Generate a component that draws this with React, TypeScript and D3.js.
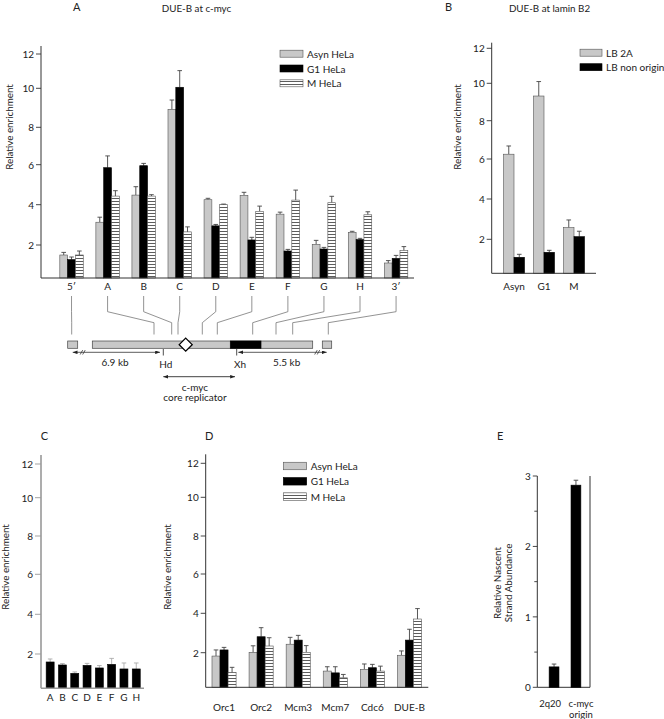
import React from "react";
import * as d3 from "d3";

// ---------- Panel A: DUE-B at c-myc ----------
const aCategories = ["5\u2032", "A", "B", "C", "D", "E", "F", "G", "H", "3\u2032"];
const cellSeries = ["Asyn HeLa", "G1 HeLa", "M HeLa"];
const aAsyn = [1.5, 3.13, 4.48, 8.92, 4.25, 4.47, 3.53, 2.03, 2.63, 1.1];
const aAsynErr = [0.13, 0.25, 0.42, 0.48, 0.07, 0.15, 0.1, 0.2, 0.05, 0.12];
const aG1 = [1.27, 5.85, 5.95, 10.06, 2.95, 2.25, 1.7, 1.8, 2.27, 1.33];
const aG1Err = [0.13, 0.62, 0.12, 0.97, 0.07, 0.13, 0.08, 0.08, 0.06, 0.15];
const aM = [1.5, 4.43, 4.43, 2.65, 4.0, 3.67, 4.23, 4.1, 3.5, 1.72];
const aMErr = [0.2, 0.27, 0.07, 0.25, 0.03, 0.26, 0.5, 0.32, 0.15, 0.2];
const enrichTicks = [2, 4, 6, 8, 10, 12];

// map probe positions (map units from left end of the schematic)
const mapProbes = [4, 86.3, 104, 110.3, 134.6, 149.6, 185, 208.3, 225, 260.6];

// ---------- Panel B: DUE-B at lamin B2 ----------
const bCategories = ["Asyn", "G1", "M"];
const bSeries = ["LB 2A", "LB non origin"];
const bLB2A = [6.25, 9.32, 2.58];
const bLB2AErr = [0.43, 0.78, 0.38];
const bNonOrigin = [1.1, 1.35, 2.13];
const bNonOriginErr = [0.15, 0.1, 0.27];

// ---------- Panel C ----------
const cCategories = ["A", "B", "C", "D", "E", "F", "G", "H"];
const cValues = [1.6, 1.45, 1.03, 1.43, 1.3, 1.48, 1.25, 1.25];
const cErr = [0.15, 0.07, 0.07, 0.1, 0.12, 0.3, 0.3, 0.3];

// ---------- Panel D ----------
const dCategories = ["Orc1", "Orc2", "Mcm3", "Mcm7", "Cdc6", "DUE-B"];
const dAsyn = [1.83, 2.02, 2.43, 1.07, 1.16, 1.87];
const dAsynErr = [0.31, 0.33, 0.35, 0.22, 0.27, 0.22];
const dG1 = [2.14, 2.81, 2.64, 0.98, 1.24, 2.64];
const dG1Err = [0.13, 0.46, 0.24, 0.31, 0.17, 0.55];
const dM = [1.0, 2.34, 2.02, 0.73, 1.07, 3.71];
const dMErr = [0.26, 0.42, 0.34, 0.17, 0.25, 0.53];

// ---------- Panel E ----------
const eKeys = ["2q20", "c-myc origin"];
const eLabels = [["2q20"], ["c-myc", "origin"]];
const eValues = [0.29, 2.87];
const eErr = [0.04, 0.07];
const eTicks = [0, 1, 2, 3];
const eMinorTicks = [0.5, 1.5, 2.5];

const FONT = "Lato, 'Open Sans', sans-serif";
const GRAY = "#c8c8c8";
const fills = [GRAY, "#000", "url(#hstripe)"];

type BarProps = {
  cats: string[];
  series: number[][];
  errs: number[][];
  x: d3.ScaleBand<string>;
  y: d3.ScaleLinear<number, number>;
  y0: number;
  fillList: string[];
  errColor?: string;
};

function GroupedBars({ cats, series, errs, x, y, y0, fillList, errColor = "#444" }: BarProps) {
  const sub = d3.scaleBand<number>().domain(d3.range(series.length)).range([0, x.bandwidth()]);
  return (
    <g>
      {cats.map((c, ci) =>
        series.map((vals, si) => {
          const v = vals[ci];
          const e = errs[si][ci];
          const bx = (x(c) as number) + (sub(si) as number);
          const w = sub.bandwidth();
          const cx = bx + w / 2;
          return (
            <g key={c + si}>
              <line x1={cx} x2={cx} y1={y(v)} y2={y(v + e)} stroke={errColor} strokeWidth={0.9} />
              <line x1={cx - 2.3} x2={cx + 2.3} y1={y(v + e)} y2={y(v + e)} stroke={errColor} strokeWidth={0.9} />
              <rect x={bx} y={y(v)} width={w} height={y0 - y(v)} fill={fillList[si]}
                stroke={fillList[si] === "#000" ? "#000" : "#555"} strokeWidth={0.6} />
            </g>
          );
        })
      )}
    </g>
  );
}

function YAxis({ y, x0, ticks, color = "#333", width = 1, top, bottom, tickLen = 5, fmt = (t: number) => String(t) }: any) {
  return (
    <g fontFamily={FONT} fontSize={10} fill="#222">
      <line x1={x0} x2={x0} y1={top} y2={bottom} stroke={color} strokeWidth={width} />
      {ticks.map((t: number) => (
        <g key={t}>
          <line x1={x0 - tickLen} x2={x0} y1={y(t)} y2={y(t)} stroke={color} strokeWidth={0.9} />
          <text x={x0 - tickLen - 2} y={y(t)} textAnchor="end" dominantBaseline="central">{fmt(t)}</text>
        </g>
      ))}
    </g>
  );
}

function Legend({ items, x, y, step, w, h, fillList }: any) {
  return (
    <g fontFamily={FONT} fontSize={10} fill="#222">
      {items.map((s: string, i: number) => (
        <g key={s}>
          <rect x={x} y={y + i * step - h / 2} width={w} height={h} fill={fillList[i]}
            stroke={fillList[i] === "#000" ? "#000" : "#555"} strokeWidth={0.6} />
          <text x={x + w + 4} y={y + i * step} dominantBaseline="central">{s}</text>
        </g>
      ))}
    </g>
  );
}

function YLabel({ x, y, lines }: { x: number; y: number; lines: string[] }) {
  return (
    <text transform={`translate(${x},${y}) rotate(-90)`} textAnchor="middle" fontFamily={FONT} fontSize={9.8} fill="#222">
      {lines.map((l, i) => (
        <tspan key={l} x={0} dy={i === 0 ? 0 : 10.5}>{l}</tspan>
      ))}
    </text>
  );
}

export default function App() {
  // Panel A scales
  const xA = d3.scaleBand<string>().domain(aCategories).range([53.5, 414.1]).paddingInner(0.35).paddingOuter(0.175);
  const yA = d3.scaleLinear().domain([0.35, 2, 4, 6, 8, 10, 12]).range([278, 245, 204.7, 164.7, 127.3, 88.3, 54]);
  const aBase = 278;

  // Panel B
  const xB = d3.scaleBand<string>().domain(bCategories).range([499, 589]).paddingInner(0.3).paddingOuter(0.15);
  const yB = d3.scaleLinear().domain([0.3, 2, 4, 6, 8, 10, 12]).range([273.3, 239.3, 199, 159, 120.7, 83.3, 48.3]);
  const bBase = 273.3;

  // Panel C
  const xC = d3.scaleBand<string>().domain(cCategories).range([44, 142.4]).paddingInner(0.35).paddingOuter(0.175);
  const yC = d3.scaleLinear().domain([0.28, 2, 4, 6, 8, 10, 12]).range([688.3, 654, 614.3, 574.3, 536, 497.7, 464]);
  const cBase = 688.3;

  // Panel D
  const xD = d3.scaleBand<string>().domain(dCategories).range([205.5, 428]).paddingInner(0.35).paddingOuter(0.175);
  const yD = d3.scaleLinear().domain([0.25, 2, 4, 6, 8, 10, 12]).range([687.3, 652.7, 613.3, 574, 536, 497.3, 463.3]);
  const dBase = 687.3;

  // Panel E
  const xE = d3.scaleBand<string>().domain(eKeys).range([543, 587]).paddingInner(0.55).paddingOuter(0.28);
  const yE = d3.scaleLinear().domain([0, 3]).range([687.3, 476]);
  const eLabelShift = [-4, 5];

  // Map schematic
  const xMap = d3.scaleLinear().domain([0, 264]).range([67.7, 331.7]);
  const mapTop = 341, mapH = 7.3;

  return (
    <svg width={664} height={719} style={{ position: "absolute", left: 0, top: 0, background: "#fff" }}>
      <defs>
        <pattern id="hstripe" patternUnits="userSpaceOnUse" width={8} height={3}>
          <rect width={8} height={3} fill="#fff" />
          <line x1={0} x2={8} y1={0.5} y2={0.5} stroke="#333" strokeWidth={0.8} />
        </pattern>
        <marker id="arr" viewBox="0 0 8 6" refX={8} refY={3} markerWidth={6} markerHeight={4.5} orient="auto-start-reverse">
          <path d="M0,0 L8,3 L0,6 z" fill="#222" />
        </marker>
      </defs>
      <rect width={664} height={719} fill="#fff" />

      {/* ============ Panel A ============ */}
      <text x={73} y={11} fontFamily={FONT} fontSize={11} fill="#222">A</text>
      <text x={196.5} y={12} textAnchor="middle" fontFamily={FONT} fontSize={9.8} fill="#222">DUE-B at c-myc</text>
      <YLabel x={13} y={127} lines={["Relative enrichment"]} />
      <YAxis y={yA} x0={41} ticks={enrichTicks} top={46} bottom={aBase} />
      <GroupedBars cats={aCategories} series={[aAsyn, aG1, aM]} errs={[aAsynErr, aG1Err, aMErr]}
        x={xA} y={yA} y0={aBase} fillList={fills} />
      <line x1={41} x2={414} y1={aBase} y2={aBase} stroke="#333" strokeWidth={1} />
      <g fontFamily={FONT} fontSize={10} fill="#222" textAnchor="middle">
        {aCategories.map((c) => (
          <text key={c} x={(xA(c) as number) + xA.bandwidth() / 2} y={290}>{c}</text>
        ))}
      </g>
      <Legend items={cellSeries} x={280} y={53.7} step={14.8} w={23} h={7} fillList={fills} />

      {/* connectors from probes to map */}
      <g fill="none" stroke="#777" strokeWidth={0.8}>
        {aCategories.map((c, i) => {
          const lx = (xA(c) as number) + xA.bandwidth() / 2;
          const px = xMap(mapProbes[i]);
          return <path key={c} d={`M${lx},296 V311.7 L${px},322.7 V334.5`} />;
        })}
      </g>
      {/* map schematic */}
      <g stroke="#444" strokeWidth={0.7}>
        <rect x={xMap(0)} y={mapTop} width={xMap(10) - xMap(0)} height={mapH} fill={GRAY} />
        <rect x={xMap(24.6)} y={mapTop} width={xMap(245) - xMap(24.6)} height={mapH} fill={GRAY} />
        <rect x={xMap(162.6)} y={mapTop} width={xMap(193.3) - xMap(162.6)} height={mapH} fill="#000" stroke="#000" />
        <rect x={xMap(254.6)} y={mapTop} width={xMap(264) - xMap(254.6)} height={mapH} fill={GRAY} />
        <path d={`M${xMap(118)},${mapTop + mapH / 2 - 6.5} l6.5,6.5 l-6.5,6.5 l-6.5,-6.5 z`} fill="#fff" stroke="#000" strokeWidth={1.3} />
      </g>
      {/* distance arrows */}
      <g stroke="#333" strokeWidth={0.8} fill="none">
        <line x1={xMap(5)} x2={xMap(92.3)} y1={352.3} y2={352.3} markerStart="url(#arr)" markerEnd="url(#arr)" />
        <path d={`M${xMap(12.5)},354.5 l2.5,-4.4 M${xMap(15)},354.5 l2.5,-4.4`} stroke="#333" />
        <line x1={xMap(170.6)} x2={xMap(259)} y1={352.3} y2={352.3} markerStart="url(#arr)" markerEnd="url(#arr)" />
        <path d={`M${xMap(247)},354.5 l2.5,-4.4 M${xMap(249.5)},354.5 l2.5,-4.4`} stroke="#333" />
        <line x1={xMap(95.6)} x2={xMap(95.6)} y1={349} y2={355.5} stroke="#222" />
        <line x1={xMap(169)} x2={xMap(169)} y1={349} y2={355.5} stroke="#222" />
        <line x1={xMap(95.6)} x2={xMap(167.3)} y1={376.7} y2={376.7} stroke="#111" markerStart="url(#arr)" markerEnd="url(#arr)" />
      </g>
      <g fontFamily={FONT} fontSize={10} fill="#222" textAnchor="middle">
        <text x={115} y={366}>6.9 kb</text>
        <text x={165.7} y={368}>Hd</text>
        <text x={240} y={368}>Xh</text>
        <text x={286.7} y={366}>5.5 kb</text>
        <text x={195} y={390.5}>c-myc</text>
        <text x={195} y={401}>core replicator</text>
      </g>

      {/* ============ Panel B ============ */}
      <text x={445} y={11} fontFamily={FONT} fontSize={11} fill="#222">B</text>
      <text x={549.5} y={12} textAnchor="middle" fontFamily={FONT} fontSize={9.8} fill="#222">DUE-B at lamin B2</text>
      <YLabel x={461} y={127} lines={["Relative enrichment"]} />
      <YAxis y={yB} x0={491.7} ticks={enrichTicks} top={42.7} bottom={bBase} />
      <GroupedBars cats={bCategories} series={[bLB2A, bNonOrigin]} errs={[bLB2AErr, bNonOriginErr]}
        x={xB} y={yB} y0={bBase} fillList={[GRAY, "#000"]} />
      <line x1={491.7} x2={596} y1={bBase} y2={bBase} stroke="#333" strokeWidth={1} />
      <g fontFamily={FONT} fontSize={10} fill="#222" textAnchor="middle">
        {bCategories.map((c) => (
          <text key={c} x={(xB(c) as number) + xB.bandwidth() / 2} y={290}>{c}</text>
        ))}
      </g>
      <Legend items={bSeries} x={580} y={52.7} step={14.5} w={22} h={7} fillList={[GRAY, "#000"]} />

      {/* ============ Panel C ============ */}
      <text x={40.7} y={439.5} fontFamily={FONT} fontSize={11} fill="#222">C</text>
      <YLabel x={9} y={567} lines={["Relative enrichment"]} />
      <YAxis y={yC} x0={41} ticks={enrichTicks} top={455} bottom={cBase} color="#999" width={1.6} tickLen={6} />
      <GroupedBars cats={cCategories} series={[cValues]} errs={[cErr]}
        x={xC} y={yC} y0={cBase} fillList={["#000"]} errColor="#aaa" />
      <line x1={41} x2={144} y1={cBase} y2={cBase} stroke="#999" strokeWidth={1.6} />
      <g fontFamily={FONT} fontSize={10} fill="#222" textAnchor="middle">
        {cCategories.map((c) => (
          <text key={c} x={(xC(c) as number) + xC.bandwidth() / 2} y={700.5}>{c}</text>
        ))}
      </g>

      {/* ============ Panel D ============ */}
      <text x={205} y={439.5} fontFamily={FONT} fontSize={11} fill="#222">D</text>
      <YLabel x={171} y={567} lines={["Relative enrichment"]} />
      <YAxis y={yD} x0={205.7} ticks={enrichTicks} top={454.3} bottom={dBase} />
      <GroupedBars cats={dCategories} series={[dAsyn, dG1, dM]} errs={[dAsynErr, dG1Err, dMErr]}
        x={xD} y={yD} y0={dBase} fillList={fills} />
      <line x1={205.7} x2={428.3} y1={dBase} y2={dBase} stroke="#333" strokeWidth={1} />
      <g fontFamily={FONT} fontSize={10} fill="#222" textAnchor="middle">
        {dCategories.map((c) => (
          <text key={c} x={(xD(c) as number) + xD.bandwidth() / 2} y={711}>{c}</text>
        ))}
      </g>
      <Legend items={cellSeries} x={283.3} y={466} step={15.3} w={23.4} h={7.5} fillList={fills} />

      {/* ============ Panel E ============ */}
      <text x={497} y={439.5} fontFamily={FONT} fontSize={11} fill="#222">E</text>
      <YLabel x={501} y={583} lines={["Relative Nascent", "Strand Abundance"]} />
      <YAxis y={yE} x0={537.3} ticks={eTicks} top={476} bottom={687.3} tickLen={4.5} />
      {eMinorTicks.map((t) => (
        <line key={t} x1={534.3} x2={537.3} y1={yE(t)} y2={yE(t)} stroke="#333" strokeWidth={0.9} />
      ))}
      <line x1={590} x2={590} y1={476} y2={687.3} stroke="#333" strokeWidth={1} />
      <line x1={537.3} x2={590} y1={687.3} y2={687.3} stroke="#333" strokeWidth={1} />
      <GroupedBars cats={eKeys} series={[eValues]} errs={[eErr]}
        x={xE} y={yE} y0={687.3} fillList={["#000"]} />
      <g fontFamily={FONT} fontSize={9.5} fill="#222" textAnchor="middle">
        {eLabels.map((lines, i) => {
          const key = eKeys[i];
          const cx = (xE(key) as number) + xE.bandwidth() / 2 + eLabelShift[i];
          return (
            <text key={key} x={cx} y={707}>
              {lines.map((l, j) => (
                <tspan key={l} x={cx} dy={j === 0 ? 0 : 11}>{l}</tspan>
              ))}
            </text>
          );
        })}
      </g>
    </svg>
  );
}
